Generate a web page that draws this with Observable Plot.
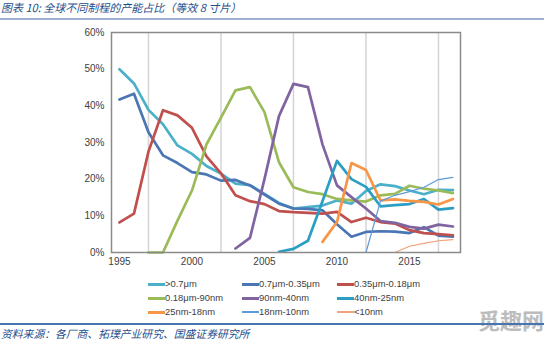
<!DOCTYPE html>
<html>
<head>
<meta charset="utf-8">
<script src="https://cdn.jsdelivr.net/npm/d3@7"></script>
<script src="https://cdn.jsdelivr.net/npm/@observablehq/plot@0.6"></script>
<style>
  html, body { margin: 0; padding: 0; background: #fff; }
  #root { position: relative; width: 544px; height: 340px; overflow: hidden; font-family: "Liberation Sans", Arial, sans-serif; }
  .cjk { font-family: "Noto Sans CJK SC", sans-serif; font-style: italic; color: #1f4e8c; position: absolute; white-space: nowrap; line-height: 13px; }
  .rule { position: absolute; left: 0; width: 544px; }
  .leg { position: absolute; font-size: 9.4px; color: #404040; white-space: nowrap; line-height: 12px; }
  .sw { display: inline-block; width: 17px; vertical-align: middle; margin-right: 0px; }
</style>
</head>
<body>
<div id="root">
  <div class="cjk" style="left:1px; top:1px; font-size:11px;">图表 10: 全球不同制程的产能占比（等效 8 寸片）</div>
  <div class="rule" style="top:18px; height:1.5px; background:#9fb3d1;"></div>
  <div id="chart" style="position:absolute; left:0; top:20px;"></div>
  <div id="legend"></div>
  <div style="position:absolute; left:478px; top:306px; font-family:'Noto Sans CJK SC'; font-weight:bold; font-size:22px; line-height:26px; color:#bcbcbc;">觅趣网</div>
  <div class="rule" style="top:323px; height:1.5px; background:#4a74b0;"></div>
  <div class="cjk" style="left:1px; top:327px; font-size:10.8px;">资料来源：各厂商、拓璞产业研究、国盛证券研究所</div>
</div>
<script>
const years = d3.range(1995, 2019);
const seriesNames = [">0.7μm", "0.7μm-0.35μm", "0.35μm-0.18μm", "0.18μm-90nm", "90nm-40nm", "40nm-25nm", "25nm-18nm", "18nm-10nm", "<10nm"];
const seriesColors = ["#4bb0c9", "#4a76b4", "#c0504d", "#9bbb59", "#8064a2", "#2c9ec3", "#f79646", "#5f9ad8", "#f4a07a"];
const thinSeries = ["18nm-10nm", "<10nm"];
const _ = null;
// values in %, 1995..2018
const s07 =    [50.0, 46.1, 38.9, 35.0, 29.2, 26.9, 23.6, 21.5, 18.8, 18.4, 16.0, 13.5, 12.0, 12.4, 12.8, 14.2, 13.3, 16.8, 18.6, 18.1, 16.9, 15.9, 17.1, 17.0];
const s07_035 = [41.7, 43.3, 32.8, 26.5, 24.4, 21.9, 21.3, 19.6, 19.8, 18.3, 15.8, 13.3, 12.0, 11.9, 11.5, 7.7, 4.3, 5.6, 5.8, 5.7, 5.3, 6.9, 4.6, 4.3];
const s035_018 = [8.2, 10.6, 27.5, 38.8, 37.4, 34.0, 26.2, 21.6, 15.6, 14.0, 13.2, 11.3, 11.0, 10.8, 10.6, 11.1, 8.3, 9.5, 8.3, 7.9, 6.1, 5.3, 5.0, 4.7];
const s018_90 = [_, _, 0, 0, 8.7, 16.9, 29.5, 36.8, 44.2, 45.1, 38.3, 24.6, 17.8, 16.5, 15.9, 14.6, 14.2, 13.9, 15.6, 16.0, 18.2, 17.4, 16.9, 16.2];
const s90_40 = [_, _, _, _, _, _, _, _, 1.1, 4.0, 20.0, 37.2, 46.0, 45.1, 29.5, 18.3, 15.1, 12.0, 8.6, 8.1, 7.0, 6.5, 7.6, 7.1];
const s40_25 = [_, _, _, _, _, _, _, _, _, _, _, 0.2, 1.0, 3.2, 14.0, 25.0, 20.0, 17.9, 12.6, 12.9, 13.2, 14.6, 11.7, 12.1];
const s25_18 = [_, _, _, _, _, _, _, _, _, _, _, _, _, _, 2.9, 8.3, 24.4, 22.5, 14.2, 14.5, 14.1, 13.8, 13.1, 14.6];
const s18_10 = [_, _, _, _, _, _, _, _, _, _, _, _, _, _, _, 0, 0, 0, 14.0, 15.6, 16.6, 17.8, 19.9, 20.5];
const s10 =    [_, _, _, _, _, _, _, _, _, _, _, _, _, _, _, 0, 0, 0, 0, 0, 1.7, 2.5, 3.2, 3.5];
const seriesValues = [s07, s07_035, s035_018, s018_90, s90_40, s40_25, s25_18, s18_10, s10];
const xTicks = [1995, 2000, 2005, 2010, 2015];
const gridYears = [1997, 2002, 2007, 2012, 2017];
const yTicks = [0, 10, 20, 30, 40, 50, 60];

const rows = [];
seriesNames.forEach((name, k) => {
  seriesValues[k].forEach((v, i) => { if (v != null) rows.push({ year: years[i], value: v, series: name }); });
});
const thick = rows.filter(d => !thinSeries.includes(d.series));
const thin = rows.filter(d => thinSeries.includes(d.series));

const chart = Plot.plot({
  width: 544,
  height: 255,
  marginLeft: 111,
  marginRight: 84,
  marginTop: 12,
  marginBottom: 23,
  style: { fontFamily: "'Liberation Sans', Arial, sans-serif", fontSize: "10px", color: "#404040", background: "transparent" },
  x: { domain: [1994.45, 2018.52], ticks: xTicks, tickFormat: d => String(d), tickSize: 0, tickPadding: 5, label: null },
  y: { domain: [0, 60], ticks: yTicks, tickFormat: d => d + "%", tickSize: 0, tickPadding: 7, label: null },
  color: { domain: seriesNames, range: seriesColors },
  marks: [
    Plot.ruleX(gridYears, { stroke: "#d4d4d4", strokeWidth: 1.5 }),
    Plot.line(thick, { x: "year", y: "value", z: "series", stroke: "series", strokeWidth: 2.7, strokeLinejoin: "round", strokeLinecap: "round" }),
    Plot.line(thin, { x: "year", y: "value", z: "series", stroke: "series", strokeWidth: 1.2, strokeLinejoin: "round" }),
    Plot.frame({ stroke: "#8a8a8a", strokeWidth: 1.5 })
  ]
});
document.getElementById("chart").appendChild(chart);

// legend
const legCols = [148, 242, 337];
const legRows = [284, 298, 311.5];
const legend = document.getElementById("legend");
seriesNames.forEach((name, k) => {
  const d = document.createElement("div");
  d.className = "leg";
  d.style.left = legCols[k % 3] + "px";
  d.style.top = (legRows[Math.floor(k / 3)] - 6) + "px";
  const sw = document.createElement("span");
  sw.className = "sw";
  sw.style.height = thinSeries.includes(name) ? "1.5px" : "3px";
  sw.style.background = seriesColors[k];
  d.appendChild(sw);
  d.appendChild(document.createTextNode(name));
  legend.appendChild(d);
});
</script>
</body>
</html>
